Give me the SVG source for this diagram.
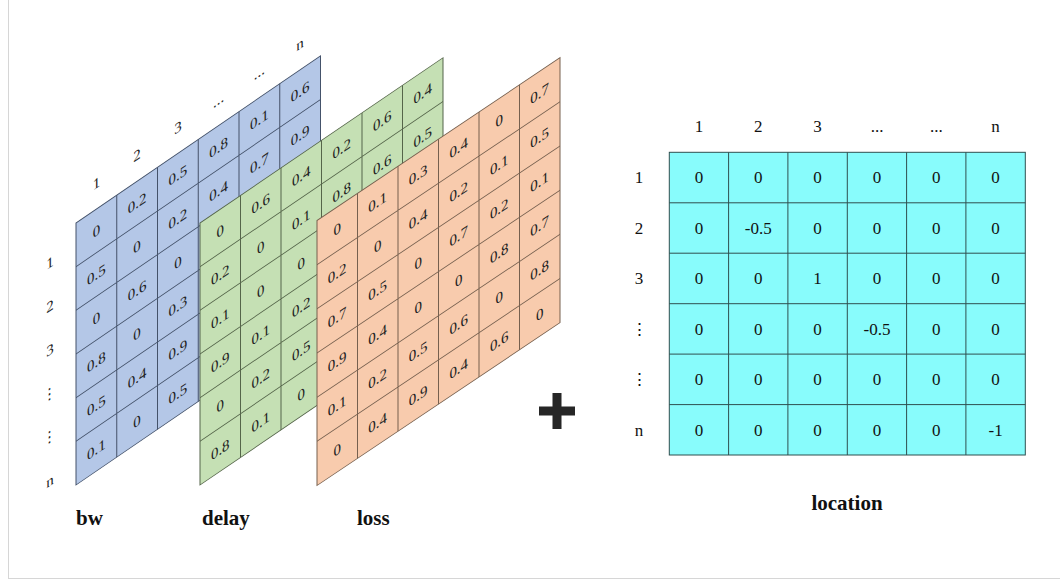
<svg xmlns="http://www.w3.org/2000/svg" width="1060" height="582" viewBox="0 0 1060 582">
<style>
.t{font-family:'Liberation Serif','DejaVu Serif',serif;font-size:15px;fill:#222;text-anchor:middle}
.h{font-family:'Liberation Serif','DejaVu Serif',serif;font-size:17px;fill:#111;text-anchor:middle}
.lbl{font-family:'Liberation Serif','DejaVu Serif',serif;font-size:21px;font-weight:bold;fill:#111}
.gl{fill:none;stroke-width:1}
</style>
<rect x="8.5" y="-2" width="1060" height="580.5" fill="#ffffff" stroke="#d6d6d6" stroke-width="1"/>

<g id="bw" transform="matrix(1,-0.6835,0,1,76,223)">
<rect x="0" y="0" width="244.5" height="262" fill="#b4c7e7" stroke="#44526a"/>
<g stroke="#44526a" class="gl">
<path d="M40.75 0V262M81.5 0V262M122.25 0V262M163 0V262M203.75 0V262M0 43.67H244.5M0 87.33H244.5M0 131H244.5M0 174.67H244.5M0 218.33H244.5"/>
</g>
<g class="t" font-family="Liberation Serif, DejaVu Serif, serif">
<text x="20.4" y="26.8">0</text><text x="20.4" y="70.5">0.5</text><text x="20.4" y="114.2">0</text><text x="20.4" y="157.8">0.8</text><text x="20.4" y="201.5">0.5</text><text x="20.4" y="245.2">0.1</text>
<text x="61.1" y="26.8">0.2</text><text x="61.1" y="70.5">0</text><text x="61.1" y="114.2">0.6</text><text x="61.1" y="157.8">0</text><text x="61.1" y="201.5">0.4</text><text x="61.1" y="245.2">0</text>
<text x="101.9" y="26.8">0.5</text><text x="101.9" y="70.5">0.2</text><text x="101.9" y="114.2">0</text><text x="101.9" y="157.8">0.3</text><text x="101.9" y="201.5">0.9</text><text x="101.9" y="245.2">0.5</text>
<text x="142.6" y="26.8">0.8</text><text x="142.6" y="70.5">0.4</text>
<text x="183.4" y="26.8">0.1</text><text x="183.4" y="70.5">0.7</text>
<text x="224.1" y="26.8">0.6</text><text x="224.1" y="70.5">0.9</text>
</g>
<g class="t">
<text x="20.4" y="-21">1</text><text x="61.1" y="-21">2</text><text x="101.9" y="-21">3</text><text x="142.6" y="-21">...</text><text x="183.4" y="-21">...</text><text x="224.1" y="-21">n</text>
<text x="-26" y="26.8">1</text><text x="-26" y="70.5">2</text><text x="-26" y="114.2">3</text><text x="-26" y="157.8">⋮</text><text x="-26" y="201.5">⋮</text><text x="-26" y="245.2">n</text>
</g>
</g>

<g id="delay" transform="matrix(1,-0.68,0,1,200,223)">
<rect x="0" y="0" width="243" height="262" fill="#c5e0b4" stroke="#55654a"/>
<g stroke="#55654a" class="gl">
<path d="M40.5 0V262M81 0V262M121.5 0V262M162 0V262M202.5 0V262M0 43.67H243M0 87.33H243M0 131H243M0 174.67H243M0 218.33H243"/>
</g>
<g class="t">
<text x="20.25" y="26.8">0</text><text x="20.25" y="70.5">0.2</text><text x="20.25" y="114.2">0.1</text><text x="20.25" y="157.8">0.9</text><text x="20.25" y="201.5">0</text><text x="20.25" y="245.2">0.8</text>
<text x="60.75" y="26.8">0.6</text><text x="60.75" y="70.5">0</text><text x="60.75" y="114.2">0</text><text x="60.75" y="157.8">0.1</text><text x="60.75" y="201.5">0.2</text><text x="60.75" y="245.2">0.1</text>
<text x="101.25" y="26.8">0.4</text><text x="101.25" y="70.5">0.1</text><text x="101.25" y="114.2">0</text><text x="101.25" y="157.8">0.2</text><text x="101.25" y="201.5">0.5</text><text x="101.25" y="245.2">0</text>
<text x="141.75" y="26.8">0.2</text><text x="141.75" y="70.5">0.8</text>
<text x="182.25" y="26.8">0.6</text><text x="182.25" y="70.5">0.6</text>
<text x="222.75" y="26.8">0.4</text><text x="222.75" y="70.5">0.5</text>
</g>
</g>

<g id="loss" transform="matrix(1,-0.67,0,1,317,220.5)">
<rect x="0" y="0" width="243" height="265" fill="#f8cbad" stroke="#76604f"/>
<g stroke="#76604f" class="gl">
<path d="M40.5 0V265M81 0V265M121.5 0V265M162 0V265M202.5 0V265M0 44.17H243M0 88.33H243M0 132.5H243M0 176.67H243M0 220.83H243"/>
</g>
<g class="t">
<text x="20.25" y="27.1">0</text><text x="20.25" y="71.3">0.2</text><text x="20.25" y="115.4">0.7</text><text x="20.25" y="159.6">0.9</text><text x="20.25" y="203.8">0.1</text><text x="20.25" y="247.9">0</text>
<text x="60.75" y="27.1">0.1</text><text x="60.75" y="71.3">0</text><text x="60.75" y="115.4">0.5</text><text x="60.75" y="159.6">0.4</text><text x="60.75" y="203.8">0.2</text><text x="60.75" y="247.9">0.4</text>
<text x="101.25" y="27.1">0.3</text><text x="101.25" y="71.3">0.4</text><text x="101.25" y="115.4">0</text><text x="101.25" y="159.6">0</text><text x="101.25" y="203.8">0.5</text><text x="101.25" y="247.9">0.9</text>
<text x="141.75" y="27.1">0.4</text><text x="141.75" y="71.3">0.2</text><text x="141.75" y="115.4">0.7</text><text x="141.75" y="159.6">0</text><text x="141.75" y="203.8">0.6</text><text x="141.75" y="247.9">0.4</text>
<text x="182.25" y="27.1">0</text><text x="182.25" y="71.3">0.1</text><text x="182.25" y="115.4">0.2</text><text x="182.25" y="159.6">0.8</text><text x="182.25" y="203.8">0</text><text x="182.25" y="247.9">0.6</text>
<text x="222.75" y="27.1">0.7</text><text x="222.75" y="71.3">0.5</text><text x="222.75" y="115.4">0.1</text><text x="222.75" y="159.6">0.7</text><text x="222.75" y="203.8">0.8</text><text x="222.75" y="247.9">0</text>
</g>
</g>

<g id="labels">
<text class="lbl" x="76" y="525">bw</text>
<text class="lbl" x="202" y="525">delay</text>
<text class="lbl" x="357" y="525">loss</text>
</g>

<g id="plus">
<rect x="539" y="406.5" width="36" height="9" fill="#262626"/>
<rect x="552.5" y="393" width="9" height="36" fill="#262626"/>
</g>

<g id="location">
<rect x="669.3" y="152.3" width="356" height="302.7" fill="#88fcfc" stroke="#2f4f4f"/>
<path d="M728.6 152.3V455M787.9 152.3V455M847.3 152.3V455M906.6 152.3V455M965.9 152.3V455M669.3 202.8H1025.3M669.3 253.2H1025.3M669.3 303.7H1025.3M669.3 354.1H1025.3M669.3 404.6H1025.3" fill="none" stroke="#2f4f4f" stroke-width="1"/>
<g class="h">
<text x="699" y="132">1</text><text x="758.3" y="132">2</text><text x="817.6" y="132">3</text><text x="877" y="132">...</text><text x="936.3" y="132">...</text><text x="995.6" y="132">n</text>
<text x="639" y="183">1</text><text x="639" y="233.5">2</text><text x="639" y="284">3</text><text x="639" y="334.5">⋮</text><text x="639" y="385">⋮</text><text x="639" y="435.5">n</text>
<text x="699" y="183">0</text><text x="758.3" y="183">0</text><text x="817.6" y="183">0</text><text x="877" y="183">0</text><text x="936.3" y="183">0</text><text x="995.6" y="183">0</text>
<text x="699" y="233.5">0</text><text x="758.3" y="233.5">-0.5</text><text x="817.6" y="233.5">0</text><text x="877" y="233.5">0</text><text x="936.3" y="233.5">0</text><text x="995.6" y="233.5">0</text>
<text x="699" y="284">0</text><text x="758.3" y="284">0</text><text x="817.6" y="284">1</text><text x="877" y="284">0</text><text x="936.3" y="284">0</text><text x="995.6" y="284">0</text>
<text x="699" y="334.5">0</text><text x="758.3" y="334.5">0</text><text x="817.6" y="334.5">0</text><text x="877" y="334.5">-0.5</text><text x="936.3" y="334.5">0</text><text x="995.6" y="334.5">0</text>
<text x="699" y="385">0</text><text x="758.3" y="385">0</text><text x="817.6" y="385">0</text><text x="877" y="385">0</text><text x="936.3" y="385">0</text><text x="995.6" y="385">0</text>
<text x="699" y="435.5">0</text><text x="758.3" y="435.5">0</text><text x="817.6" y="435.5">0</text><text x="877" y="435.5">0</text><text x="936.3" y="435.5">0</text><text x="995.6" y="435.5">-1</text>
</g>
<text class="lbl" x="847" y="510" text-anchor="middle">location</text>
</g>
</svg>
